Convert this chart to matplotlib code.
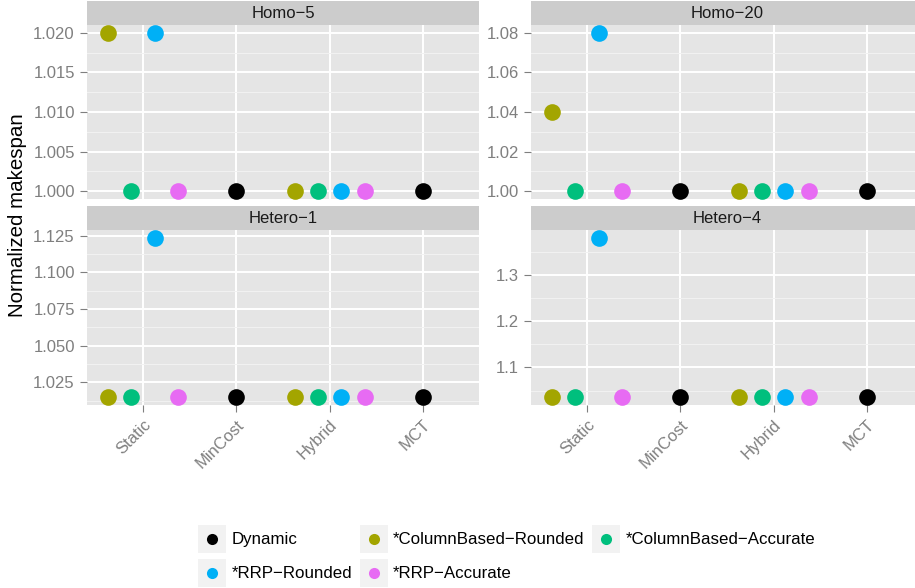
import numpy as np
import matplotlib
matplotlib.use("Agg")
import matplotlib.pyplot as plt
from matplotlib.patches import Rectangle
from matplotlib.lines import Line2D
from matplotlib.legend_handler import HandlerBase
from matplotlib.ticker import MultipleLocator, FormatStrFormatter

plt.rcParams['font.family'] = ['Liberation Sans', 'DejaVu Sans']

nan = np.nan

categories = ["Static", "MinCost", "Hybrid", "MCT"]
series = ["Dynamic", "*ColumnBased\u2212Rounded", "*ColumnBased\u2212Accurate",
          "*RRP\u2212Rounded", "*RRP\u2212Accurate"]
colors = ["#000000", "#A3A500", "#00BF7D", "#00B0F6", "#E76BF3"]

# rows follow the order of `series`, columns the order of `categories`
homo5 = [
    [nan, 1.000, nan, 1.000],
    [1.020, nan, 1.000, nan],
    [1.000, nan, 1.000, nan],
    [1.020, nan, 1.000, nan],
    [1.000, nan, 1.000, nan],
]
homo20 = [
    [nan, 1.00, nan, 1.00],
    [1.04, nan, 1.00, nan],
    [1.00, nan, 1.00, nan],
    [1.08, nan, 1.00, nan],
    [1.00, nan, 1.00, nan],
]
hetero1 = [
    [nan, 1.015, nan, 1.015],
    [1.015, nan, 1.015, nan],
    [1.015, nan, 1.015, nan],
    [1.1235, nan, 1.015, nan],
    [1.015, nan, 1.015, nan],
]
hetero4 = [
    [nan, 1.036, nan, 1.036],
    [1.036, nan, 1.036, nan],
    [1.036, nan, 1.036, nan],
    [1.380, nan, 1.036, nan],
    [1.036, nan, 1.036, nan],
]

facet_titles = ["Homo\u22125", "Homo\u221220", "Hetero\u22121", "Hetero\u22124"]
facet_data = [homo5, homo20, hetero1, hetero4]
y_steps = [0.005, 0.02, 0.025, 0.1]
y_fmts = ["%.3f", "%.2f", "%.3f", "%.1f"]

W, H = 915, 588
fig = plt.figure(figsize=(W / 100, H / 100), dpi=100)

# panel boxes in pixels: (left, top, width, height)
panel_px = [(87, 25, 392, 174), (531, 25, 392, 174),
            (87, 230, 392, 175), (531, 230, 392, 175)]
strip_h = 24.5

grey50 = "#7F7F7F"

for k in range(4):
    left, top, pw, ph = panel_px[k]
    ax = fig.add_axes([left / W, 1 - (top + ph) / H, pw / W, ph / H])
    sax = fig.add_axes([left / W, 1 - top / H, pw / W, strip_h / H])
    sax.set_facecolor("#CCCCCC")
    sax.set_xticks([])
    sax.set_yticks([])
    for s in sax.spines.values():
        s.set_visible(False)
    sax.text(0.5, 0.47, facet_titles[k], transform=sax.transAxes,
             ha="center", va="center", fontsize=12, color="#1A1A1A")

    data = np.array(facet_data[k], dtype=float)
    ax.set_facecolor("#E5E5E5")
    for s in ax.spines.values():
        s.set_visible(False)
    ax.set_axisbelow(True)

    # dodge the series present at each category
    for j in range(len(categories)):
        present = [i for i in range(len(series)) if not np.isnan(data[i, j])]
        n = len(present)
        for pos, i in enumerate(present):
            x = j + 1 + (pos - (n - 1) / 2) / n
            ax.plot(x, data[i, j], "o", ms=12, mew=0, color=colors[i],
                    clip_on=False, zorder=3)

    lo, hi = np.nanmin(data), np.nanmax(data)
    pad = (hi - lo) * 0.05
    ax.set_ylim(lo - pad, hi + pad)
    ax.set_xlim(0.4, len(categories) + 0.6)

    step = y_steps[k]
    ax.yaxis.set_major_locator(MultipleLocator(step))
    ax.yaxis.set_minor_locator(MultipleLocator(step, offset=step / 2))
    ax.yaxis.set_major_formatter(FormatStrFormatter(y_fmts[k]))
    ax.set_xticks(range(1, len(categories) + 1))
    ax.grid(which="major", color="white", lw=1.4)
    ax.grid(which="minor", axis="y", color="#F2F2F2", lw=0.7)

    ax.tick_params(axis="y", which="major", length=5.3, width=0.8, color=grey50,
                   labelcolor=grey50, labelsize=12, pad=3.5)
    ax.tick_params(axis="y", which="minor", length=0)
    if k < 2:
        ax.tick_params(axis="x", length=0, labelbottom=False)
    else:
        ax.tick_params(axis="x", length=5.3, width=0.8, color=grey50,
                       labelcolor=grey50, labelsize=12, pad=3.5)
        ax.set_xticklabels(categories, rotation=45, ha="right", va="top",
                           rotation_mode="anchor")

fig.text(18 / W, 1 - 215 / H, "Normalized makespan", rotation=90,
         ha="center", va="center", fontsize=14.8, color="black")


class KeyHandler(HandlerBase):
    def create_artists(self, legend, orig_handle, xdescent, ydescent,
                       width, height, fontsize, trans):
        bg = Rectangle((-xdescent, -ydescent), width, height,
                       facecolor="#F2F2F2", edgecolor="none", transform=trans)
        dot = Line2D([width / 2 - xdescent], [height / 2 - ydescent],
                     marker="o", ms=8, mew=0, linestyle="none",
                     color=orig_handle.get_color(), transform=trans)
        return [bg, dot]


handles = [Line2D([], [], color=c) for c in colors]
order = [0, 3, 1, 4, 2]
fig.legend([handles[i] for i in order], [series[i] for i in order],
           ncol=3, loc="upper left", bbox_to_anchor=(198 / W, 1 - 525 / H),
           frameon=False, borderpad=0, borderaxespad=0, fontsize=12.2,
           handlelength=1.65, handleheight=2.165, handletextpad=0.32,
           labelspacing=0.34, columnspacing=0.45,
           handler_map={Line2D: KeyHandler()})

fig.savefig("out.png", dpi=100)
